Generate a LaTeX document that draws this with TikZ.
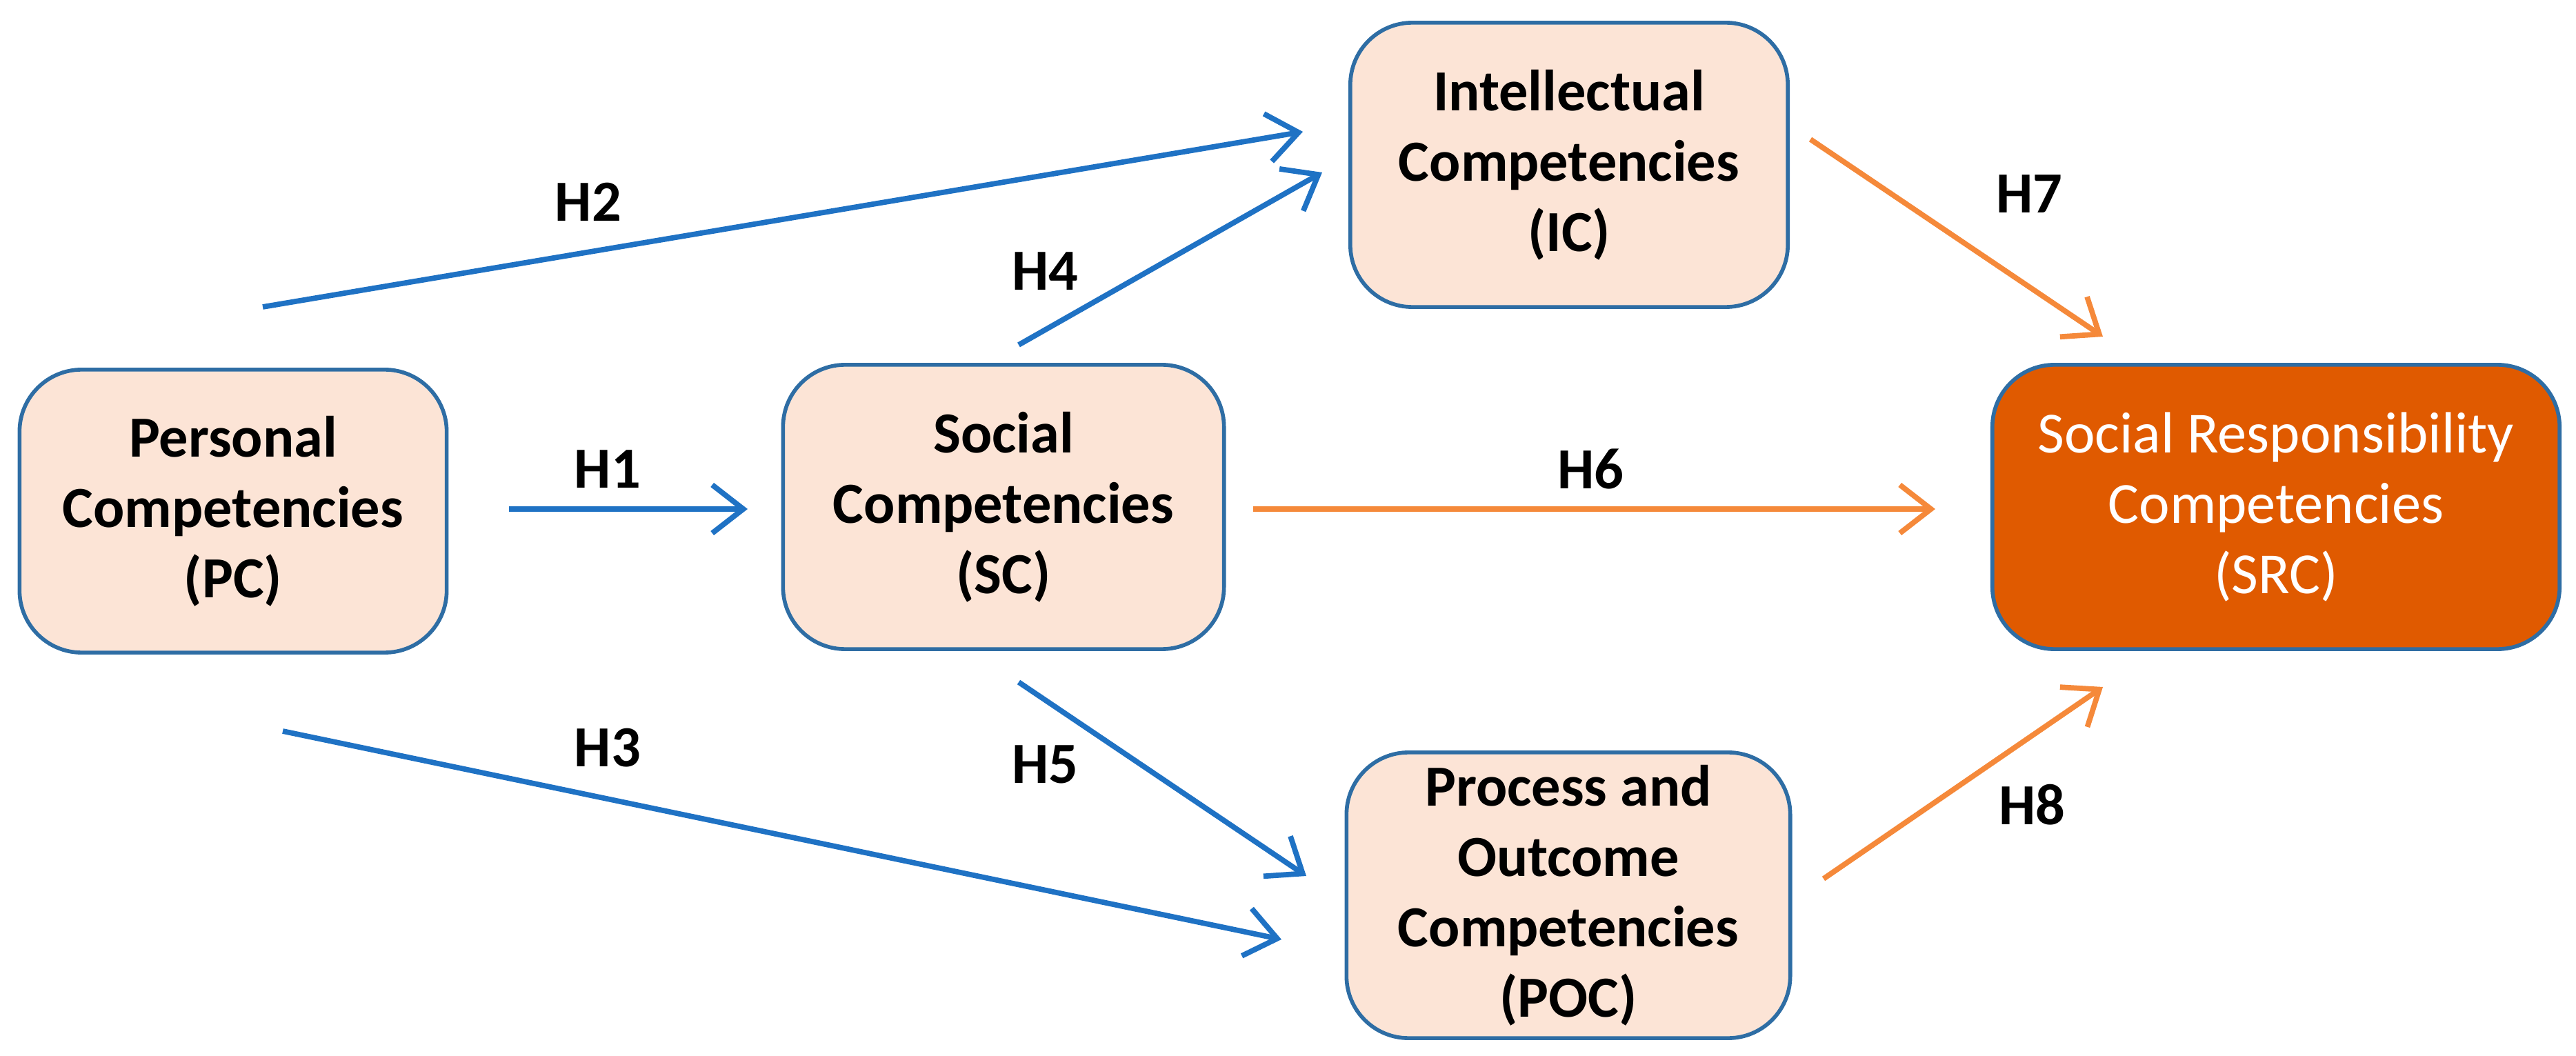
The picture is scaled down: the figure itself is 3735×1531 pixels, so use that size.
\documentclass[tikz,border=0pt]{standalone}
\usepackage{fontspec}
\setmainfont{Carlito}
\usetikzlibrary{arrows.meta}
\definecolor{boxfill}{HTML}{FCE4D6}
\definecolor{boxline}{HTML}{2E6DA4}
\definecolor{srcfill}{HTML}{E05A00}
\definecolor{blu}{HTML}{1F72C4}
\definecolor{org}{HTML}{F5893A}
\begin{document}
\begin{tikzpicture}[x=0.01cm,y=-0.01cm,
 box/.style={draw=boxline,line width=1.6pt,fill=boxfill,rounded corners=0.9cm,align=center,font=\fontsize{24}{29}\selectfont\bfseries,inner sep=0pt},
 barrow/.style={draw=blu,line width=2.2pt,-{Straight Barb[length=0.45cm,width=0.7cm,line width=2.2pt]}},
 oarrow/.style={draw=org,line width=2.2pt,-{Straight Barb[length=0.45cm,width=0.7cm,line width=2.2pt]}},
 lab/.style={font=\fontsize{24}{29}\selectfont\bfseries}]
\useasboundingbox (0,0) rectangle (3735,1531);
\node[box,minimum width=6.19cm,minimum height=4.1cm] (pc) at (338,741) {Personal\\Competencies\\(PC)};
\node[box,minimum width=6.39cm,minimum height=4.12cm] (sc) at (1455,735) {Social\\Competencies\\(SC)};
\node[box,minimum width=6.34cm,minimum height=4.12cm] (ic) at (2275,239) {Intellectual\\Competencies\\(IC)};
\node[box,minimum width=6.43cm,minimum height=4.14cm] (poc) at (2274,1298) {Process and\\Outcome\\Competencies\\(POC)};
\node[box,fill=srcfill,draw=boxline,text=white,font=\fontsize{24}{29}\selectfont,minimum width=8.22cm,minimum height=4.12cm] (src) at (3300,735) {Social Responsibility\\Competencies\\(SRC)};
\coordinate (a1s) at (738,738); \coordinate (a1e) at (1084,738);
\coordinate (a2s) at (381,445); \coordinate (a2e) at (1889,191);
\coordinate (a3s) at (410,1060); \coordinate (a3e) at (1858,1362);
\coordinate (a4s) at (1477,500); \coordinate (a4e) at (1917,250);
\coordinate (a5s) at (1477,989); \coordinate (a5e) at (1894,1270);
\coordinate (a6s) at (1817,738); \coordinate (a6e) at (2806,738);
\coordinate (a7s) at (2625,202); \coordinate (a7e) at (3049,488);
\coordinate (a8s) at (2644,1274); \coordinate (a8e) at (3049,996);
\draw[barrow] (a1s) -- (a1e);
\draw[barrow] (a2s) -- (a2e);
\draw[barrow] (a3s) -- (a3e);
\draw[barrow] (a4s) -- (a4e);
\draw[barrow] (a5s) -- (a5e);
\draw[oarrow] (a6s) -- (a6e);
\draw[oarrow] (a7s) -- (a7e);
\draw[oarrow] (a8s) -- (a8e);
\node[lab] (h1) at (881,680) {H1};
\node[lab] (h2) at (853,293) {H2};
\node[lab] (h3) at (881,1084) {H3};
\node[lab] (h4) at (1515,393) {H4};
\node[lab] (h5) at (1515,1108) {H5};
\node[lab] (h6) at (2306,680) {H6};
\node[lab] (h7) at (2942,281) {H7};
\node[lab] (h8) at (2946,1167) {H8};
\end{tikzpicture}
\end{document}
